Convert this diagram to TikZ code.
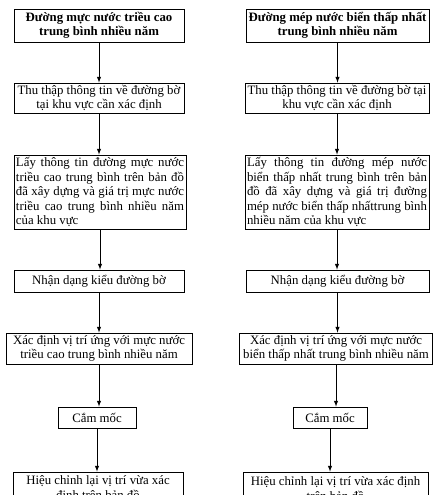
\documentclass[tikz,border=0pt]{standalone}
\usepackage{fontspec}
\setmainfont{Liberation Serif}
\usepackage{tikz}
\usetikzlibrary{shapes,arrows,positioning,calc}

\begin{document}
\begin{tikzpicture}[x=1pt,y=-1pt,
        procbox/.style={draw,line width=0.8pt,inner sep=1.5pt,align=center,
            font=\fontsize{12.8}{14.5}\selectfont},
        titlebox/.style={procbox,font=\bfseries\fontsize{12.8}{14.5}\selectfont},
        textbox/.style={procbox,align=justify},
        arr/.style={-latex,line width=1pt}]
    \useasboundingbox (0,0) rectangle (433,495);
    % left column
    \node[titlebox,minimum width=170,minimum height=33] (L1) at (99,25.5) {Đường mực nước triều cao\\trung bình nhiều năm};
    \node[procbox,minimum width=170,minimum height=30] (L2) at (99,98) {Thu thập thông tin về đường bờ\\tại khu vực cần xác định};
    \node[textbox,minimum width=172,minimum height=74,text width=168] (L3) at (100,192) {Lấy thông tin đường mực nước\linebreak triều cao trung bình trên bản đồ\linebreak đã xây dựng và giá trị mực nước\linebreak triều cao trung bình nhiều năm\linebreak của khu vực};
    \node[procbox,minimum width=170,minimum height=22] (L4) at (99,281) {Nhận dạng kiểu đường bờ};
    \node[procbox,minimum width=186,minimum height=31] (L5) at (99,348.5) {Xác định vị trí ứng với mực nước\\triều cao trung bình nhiều năm};
    \node[procbox,minimum width=78,minimum height=21] (L6) at (97,417.5) {Cắm mốc};
    \node[procbox,minimum width=170,minimum height=33] (L7) at (98,488.5) {Hiệu chỉnh lại vị trí vừa xác\\định trên bản đồ};
    % right column
    \node[titlebox,minimum width=183,minimum height=33] (R1) at (337.5,25.5) {Đường mép nước biển thấp nhất\\trung bình nhiều năm};
    \node[procbox,minimum width=184,minimum height=30] (R2) at (337,98) {Thu thập thông tin về đường bờ tại\\khu vực cần xác định};
    \node[textbox,minimum width=184,minimum height=74,text width=180] (R3) at (337,192) {Lấy thông tin đường mép nước\linebreak biển thấp nhất trung bình trên bản\linebreak đồ đã xây dựng và giá trị đường\linebreak mép nước biển thấp nhấttrung bình\linebreak nhiều năm của khu vực};
    \node[procbox,minimum width=183,minimum height=22] (R4) at (337.5,281) {Nhận dạng kiểu đường bờ};
    \node[procbox,minimum width=193,minimum height=31] (R5) at (336,348.5) {Xác định vị trí ứng với mực nước\\biển thấp nhất trung bình nhiều năm};
    \node[procbox,minimum width=74,minimum height=21] (R6) at (330,417.5) {Cắm mốc};
    \node[procbox,minimum width=185,minimum height=33] (R7) at (335.5,488.5) {Hiệu chỉnh lại vị trí vừa xác định\\trên bản đồ};
    % arrows
    \foreach \a/\b in {L1/L2,L2/L3,L3/L4,L4/L5,L5/L6,L6/L7,R1/R2,R2/R3,R3/R4,R4/R5,R5/R6,R6/R7} {
        \draw[arr] (\a.south) -- (\a.south |- \b.north);
    }
\end{tikzpicture}
\end{document}
